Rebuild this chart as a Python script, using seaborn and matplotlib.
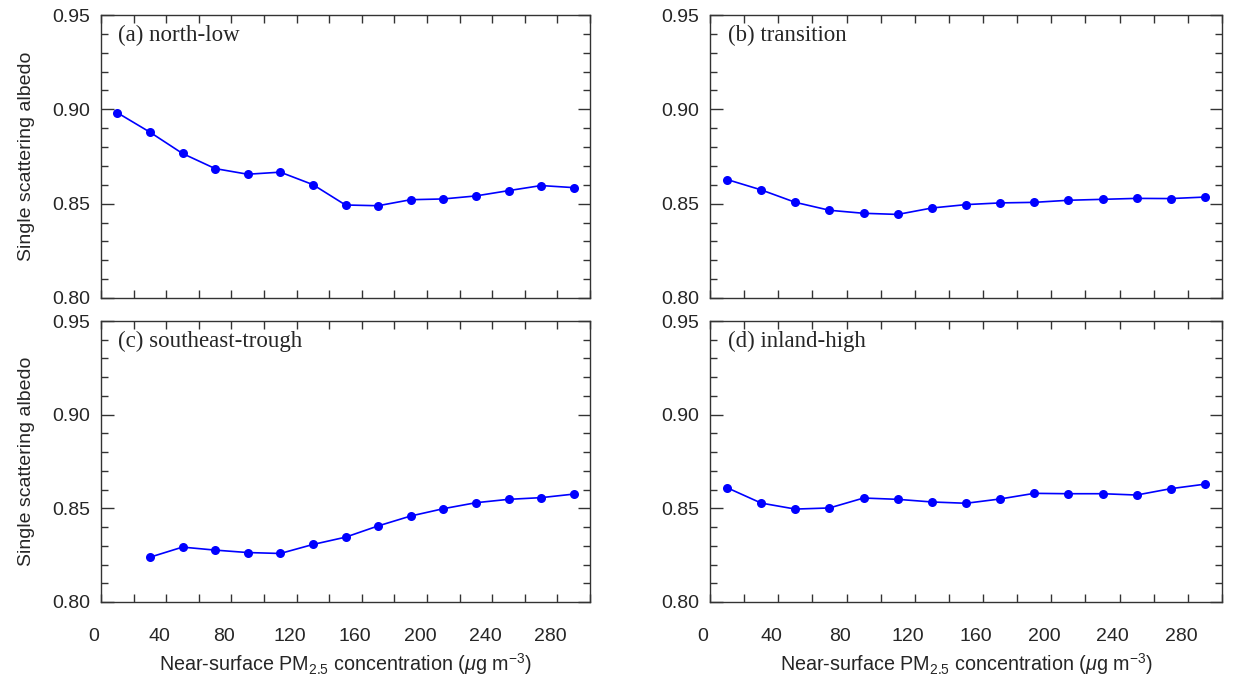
import numpy as np
import pandas as pd
import seaborn as sns
import matplotlib.pyplot as plt
import matplotlib.transforms as mtransforms
from matplotlib.ticker import MultipleLocator

# PM2.5 bin centres (ug m-3)
pm_full = [10, 30, 50, 70, 90, 110, 130, 150, 170, 190, 210, 230, 250, 270, 290]
pm_c = pm_full[1:]

ssa_a = [0.8982, 0.8879, 0.8766, 0.8686, 0.8656, 0.8667, 0.8601, 0.8493,
         0.8489, 0.8521, 0.8525, 0.8541, 0.8569, 0.8596, 0.8585]
ssa_b = [0.8628, 0.8573, 0.8507, 0.8465, 0.8449, 0.8443, 0.8477, 0.8495,
         0.8504, 0.8507, 0.8518, 0.8523, 0.8528, 0.8527, 0.8535]
ssa_c = [0.8239, 0.8293, 0.8277, 0.8264, 0.8259, 0.8307, 0.8346, 0.8406,
         0.8459, 0.8498, 0.8530, 0.8548, 0.8557, 0.8576]
ssa_d = [0.8610, 0.8528, 0.8496, 0.8502, 0.8555, 0.8548, 0.8534, 0.8527,
         0.8550, 0.8580, 0.8578, 0.8578, 0.8571, 0.8605, 0.8629]

titles = ["(a) north-low", "(b) transition", "(c) southeast-trough", "(d) inland-high"]

sns.set_style("ticks")
plt.rcParams["font.family"] = ["Liberation Sans", "DejaVu Sans"]
plt.rcParams["mathtext.fontset"] = "custom"
plt.rcParams["mathtext.rm"] = "Liberation Sans"
plt.rcParams["mathtext.it"] = "Liberation Sans:italic"

fig = plt.figure(figsize=(12.37, 6.76), dpi=100)
W, H = 1237, 676
# panel frames in pixels: left, top, right, bottom
boxes = [(101, 15, 590, 298), (710, 15, 1222, 298),
         (101, 321, 590, 602), (710, 321, 1222, 602)]
series = [(pm_full, ssa_a), (pm_full, ssa_b), (pm_c, ssa_c), (pm_full, ssa_d)]

for i, ((l, t, r, b), (x, y), title) in enumerate(zip(boxes, series, titles)):
    ax = fig.add_axes([l / W, 1 - b / H, (r - l) / W, (b - t) / H])
    df = pd.DataFrame({"pm": x, "ssa": y})
    sns.lineplot(data=df, x="pm", y="ssa", ax=ax, color="#0000ff", lw=1.2,
                 marker="o", markersize=6.5, markeredgewidth=0, markerfacecolor="#0000ff")
    ax.set_xlim(0, 300)
    ax.set_ylim(0.80, 0.95)
    ax.xaxis.set_major_locator(MultipleLocator(40))
    ax.xaxis.set_minor_locator(MultipleLocator(20))
    ax.yaxis.set_major_locator(MultipleLocator(0.05))
    ax.yaxis.set_minor_locator(MultipleLocator(0.01))
    ax.yaxis.set_major_formatter(plt.FormatStrFormatter("%.2f"))
    ax.tick_params(which="both", direction="in", top=True, right=True,
                   labelsize=14, color="#333333", width=1)
    ax.tick_params(axis="y", which="major", length=9, pad=8)
    ax.tick_params(axis="y", which="minor", length=5)
    ax.tick_params(axis="x", which="both", length=6, pad=19)
    for s in ax.spines.values():
        s.set_linewidth(1.0)
        s.set_color("#333333")
    ax.text(0.035, 0.965, title, transform=ax.transAxes, ha="left", va="top",
            fontsize=16.5, family=["Liberation Serif", "DejaVu Serif"])
    ax.set_xlabel("")
    ax.set_ylabel("")
    if i < 2:
        ax.tick_params(axis="x", labelbottom=False)
    else:
        ax.set_xlabel(r"Near-surface PM$_{2.5}$ concentration ($\mathit{\mu}$g m$^{-3}$)",
                      fontsize=14.2, labelpad=4)
        off = mtransforms.ScaledTranslation(-0.07, 0, fig.dpi_scale_trans)
        for lab in ax.get_xticklabels():
            lab.set_transform(lab.get_transform() + off)
    if i % 2 == 0:
        ax.set_ylabel("Single scattering albedo", fontsize=14, labelpad=12)

fig.savefig("out.png", dpi=100)
